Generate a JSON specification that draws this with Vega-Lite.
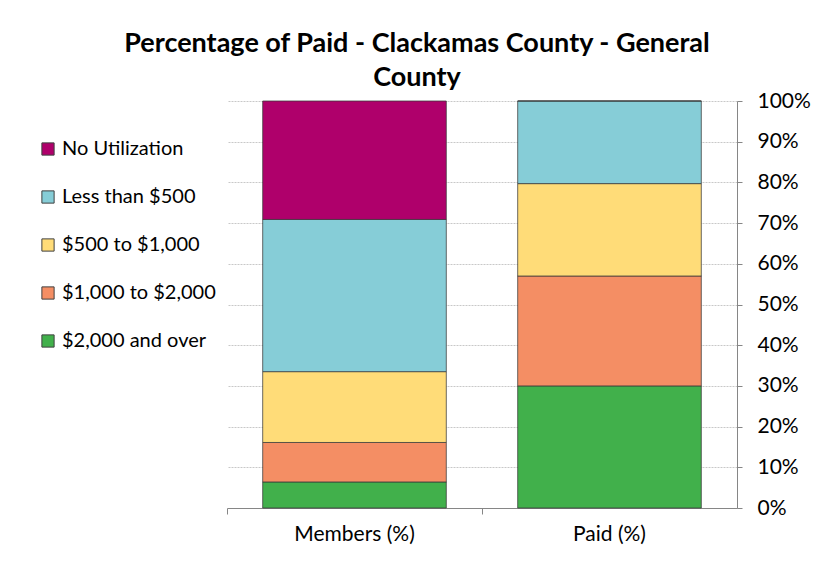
{
  "$schema": "https://vega.github.io/schema/vega-lite/v6.json",
  "width": 510,
  "height": 407,
  "autosize": "none",
  "padding": {"left": 227, "top": 101, "right": 83, "bottom": 61},
  "background": "white",
  "title": {
    "text": ["Percentage of Paid - Clackamas County - General", "County"],
    "font": "Lato",
    "fontSize": 27,
    "fontWeight": "bold",
    "color": "#000000",
    "anchor": "middle",
    "frame": "group",
    "dx": -65,
    "lineHeight": 34,
    "offset": -2
  },
  "config": {
    "view": {"stroke": null},
    "font": "Lato"
  },
  "data": {
    "values": [
      {"group": "Members (%)", "band": "$2,000 and over", "level": 1, "value": 0.064},
      {"group": "Members (%)", "band": "$1,000 to $2,000", "level": 2, "value": 0.097},
      {"group": "Members (%)", "band": "$500 to $1,000", "level": 3, "value": 0.174},
      {"group": "Members (%)", "band": "Less than $500", "level": 4, "value": 0.374},
      {"group": "Members (%)", "band": "No Utilization", "level": 5, "value": 0.291},
      {"group": "Paid (%)", "band": "$2,000 and over", "level": 1, "value": 0.300},
      {"group": "Paid (%)", "band": "$1,000 to $2,000", "level": 2, "value": 0.270},
      {"group": "Paid (%)", "band": "$500 to $1,000", "level": 3, "value": 0.227},
      {"group": "Paid (%)", "band": "Less than $500", "level": 4, "value": 0.203},
      {"group": "Paid (%)", "band": "No Utilization", "level": 5, "value": 0.0}
    ]
  },
  "mark": {"type": "bar", "stroke": "#3a3a3a", "strokeWidth": 1, "strokeOpacity": 0.75},
  "encoding": {
    "x": {
      "field": "group",
      "type": "nominal",
      "sort": ["Members (%)", "Paid (%)"],
      "scale": {"paddingInner": 0.28, "paddingOuter": 0.14},
      "axis": {
        "title": null,
        "labelAngle": 0,
        "labelFont": "Lato",
        "labelFontSize": 21,
        "labelColor": "#000000",
        "labelPadding": 9,
        "domainColor": "#868686",
        "tickColor": "#868686",
        "tickSize": 6,
        "bandPosition": -0.194
      }
    },
    "y": {
      "field": "value",
      "type": "quantitative",
      "stack": "zero",
      "scale": {"domain": [0, 1], "nice": false},
      "axis": {
        "orient": "right",
        "title": null,
        "format": ".0%",
        "values": [0, 0.1, 0.2, 0.3, 0.4, 0.5, 0.6, 0.7, 0.8, 0.9, 1],
        "labelFont": "Lato",
        "labelFontSize": 21,
        "labelColor": "#000000",
        "labelPadding": 15,
        "domainColor": "#868686",
        "tickColor": "#868686",
        "tickSize": 5,
        "grid": true,
        "gridColor": "#c8c8c8",
        "gridDash": [2, 1]
      }
    },
    "order": {"field": "level", "type": "quantitative", "sort": "ascending"},
    "color": {
      "field": "band",
      "type": "nominal",
      "scale": {
        "domain": ["No Utilization", "Less than $500", "$500 to $1,000", "$1,000 to $2,000", "$2,000 and over"],
        "range": ["#AF006B", "#86CDD7", "#FFDC78", "#F48E64", "#41B04B"]
      },
      "legend": {
        "title": null,
        "orient": "none",
        "legendX": -189,
        "legendY": 38,
        "symbolType": "square",
        "symbolSize": 150,
        "symbolStrokeColor": "#404040",
        "symbolStrokeWidth": 1,
        "symbolOpacity": 1,
        "labelFont": "Lato",
        "labelFontSize": 20,
        "labelColor": "#000000",
        "labelOffset": 4,
        "rowPadding": 28
      }
    }
  }
}
